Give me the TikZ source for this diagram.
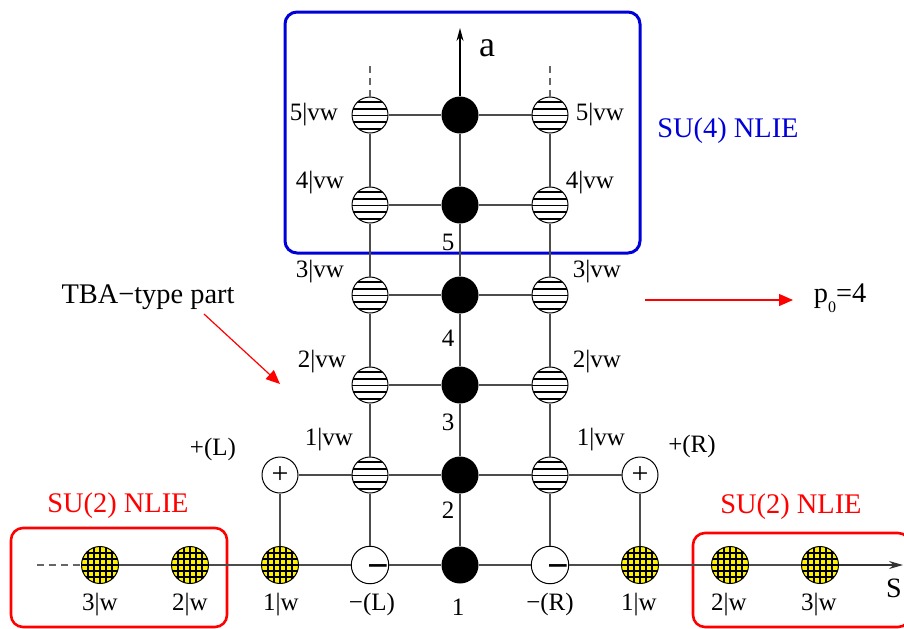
\documentclass[tikz,border=0pt]{standalone}
\usepackage{fontspec}
\setmainfont{Liberation Serif}
\usetikzlibrary{arrows.meta, calc}

\begin{document}
\begin{tikzpicture}[
    x=0.5pt, y=-0.5pt,
    >=Stealth,
    font=\fontsize{12.5}{14}\selectfont,
    link/.style={black!70, line width=0.6pt},
    loose end/.style={black!60, line width=0.6pt, dash pattern=on 3.5pt off 2.5pt},
    dot/.style={circle, fill=black, minimum size=18.5pt, inner sep=0pt},
    vw/.style={circle, draw, fill=white, line width=0.5pt, minimum size=18pt, inner sep=0pt,
        path picture={\foreach \k in {-2,...,2}
            \draw[line width=0.85pt] ([yshift=\k*3.35pt-0.3pt]path picture bounding box.west)
                -- ([yshift=\k*3.35pt-0.3pt]path picture bounding box.east);}},
    wn/.style={circle, draw, fill=yellow, line width=0.5pt, minimum size=18.5pt, inner sep=0pt,
        path picture={\foreach \k in {-2,...,2} {
            \draw[line width=0.85pt] ([xshift=\k*3pt]path picture bounding box.north)
                -- ([xshift=\k*3pt]path picture bounding box.south);
            \draw[line width=0.85pt] ([yshift=\k*3pt]path picture bounding box.west)
                -- ([yshift=\k*3pt]path picture bounding box.east);}}},
    sgn/.style={circle, draw, fill=white, line width=0.5pt, minimum size=18pt, inner sep=0pt,
                font=\fontsize{15}{15}\selectfont},
    minus/.style={sgn, font=\fontsize{19}{19}\selectfont\bfseries},
    box su4/.style={draw=blue!85!black, line width=1.5pt, rounded corners=6pt},
    box su2/.style={draw=red, line width=1.3pt, rounded corners=6pt},
    note/.style={font=\fontsize{14.2}{16}\selectfont},
    hint/.style={red, line width=0.6pt, -{Triangle[length=7pt, width=6pt]}},
]
\useasboundingbox (0,0) rectangle (904,628);

% boxes
\draw[box su4] (285,12) rectangle (640,253);
\draw[box su2] (11,528) rectangle (227,627);
\draw[box su2] (693,533) rectangle (910,627);

% central column
\foreach \k in {1,...,6}
    \node[dot] (b\k) at (460,{655-90*\k}) {};

% vw columns
\foreach \k in {1,...,5} {
    \node[vw] (L\k) at (370,{565-90*\k}) {};
    \node[vw] (R\k) at (550,{565-90*\k}) {};
}

% signs
\node[sgn] (pL) at (280,475) {+};
\node[sgn] (pR) at (640,475) {+};
\node[minus] (mL) at (370,565) {\hspace*{8pt}\raisebox{-6.8pt}[0pt][0pt]{−}};
\node[minus] (mR) at (550,565) {\hspace*{8pt}\raisebox{-6.8pt}[0pt][0pt]{−}};

% w nodes
\foreach \k in {1,2,3} {
    \node[wn] (wL\k) at ({370-90*\k},565) {};
    \node[wn] (wR\k) at ({550+90*\k},565) {};
}

\coordinate (top) at (460,28);
\coordinate (send) at (903,565);
\coordinate (lend) at (37,565);
\coordinate (Ltop) at (370,62);
\coordinate (Rtop) at (550,62);

% grid links
\foreach \k [evaluate=\k as \n using int(\k+1)] in {1,...,5} {
    \draw[link] (L\k) -- (b\n) -- (R\k);
}
\foreach \k [evaluate=\k as \n using int(\k+1)] in {1,...,4} {
    \draw[link] (L\k) -- (L\n);
    \draw[link] (R\k) -- (R\n);
}
\foreach \k [evaluate=\k as \n using int(\k+1)] in {1,...,5}
    \draw[link] (b\k) -- (b\n);
\draw[link] (L1) -- (mL);
\draw[link] (R1) -- (mR);
\draw[link] (pL) -- (L1);
\draw[link] (R1) -- (pR);
\draw[link] (pL) -- (wL1);
\draw[link] (pR) -- (wR1);
\draw[link, black, -{Stealth[length=6.5pt, width=3.5pt]}] (b6) -- (top);

% bottom chain
\draw[link] (wL3) -- (wL2) -- (wL1) -- (mL) -- (b1) -- (mR) -- (wR1) -- (wR2) -- (wR3);
\draw[link, black!80, -{Stealth[length=7pt, width=4pt]}] (wR3) -- (send);
\draw[loose end] (lend) -- (wL3);
\draw[loose end] (L5) -- (Ltop);
\draw[loose end] (R5) -- (Rtop);

% labels
\node[font=\fontsize{18}{18}\selectfont] (alab) at (487,48) {a};
\node[font=\fontsize{14}{14}\selectfont] (slab) at (894,588) {S};
\foreach \t/\xl/\xr/\yy in {1/329/601/440, 2/322/597/362, 3/320/597/272, 4/320/590/183, 5/314/600/115} {
    \node (Lt\t) at (\xl,\yy) {\t|vw};
    \node (Rt\t) at (\xr,\yy) {\t|vw};
}
\node (n1) at (458,607) {1};
\foreach \t/\yy in {2/510, 3/422, 4/338, 5/242}
    \node (n\t) at (448,\yy) {\t};
\foreach \t/\xx in {3/100, 2/190, 1/281, 1/639, 2/729, 3/819}
    \node at (\xx,605) {\t|w};
\node (mLt) at (372,604) {−(L)};
\node (mRt) at (550,604) {−(R)};
\node (pLt) at (213,449) {+(L)};
\node (pRt) at (692,446) {+(R)};

\node[note, text=blue!85!black] (su4) at (728,131) {SU(4) NLIE};
\node[note, text=red] (su2L) at (118,506) {SU(2) NLIE};
\node[note, text=red] (su2R) at (791,507) {SU(2) NLIE};
\node[note] (tba) at (148,297) {TBA−type part};
\node[note] (pnull) at (840,298) {p\raisebox{-5pt}{\fontsize{8}{8}\selectfont 0}=4};

\coordinate (tbafrom) at (204,314);
\coordinate (tbato) at (280,384);
\coordinate (pfrom) at (645,300);
\coordinate (pto) at (793,300);
\draw[hint] (tbafrom) -- (tbato);
\draw[hint] (pfrom) -- (pto);
\end{tikzpicture}
\end{document}
